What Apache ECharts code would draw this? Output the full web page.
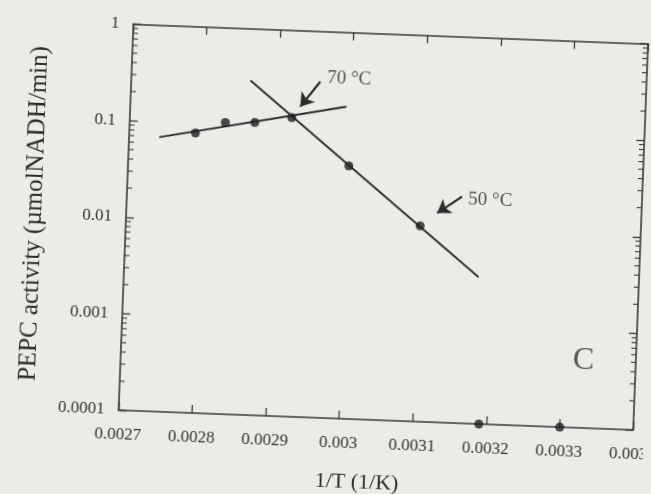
<!DOCTYPE html>
<html><head><meta charset="utf-8">
<script src="https://cdn.jsdelivr.net/npm/echarts@6/dist/echarts.min.js"></script>
<style>
html,body{margin:0;padding:0;background:#ecebe8;overflow:hidden;}
#chart{width:651px;height:494px;transform:rotate(2.2deg);transform-origin:50% 50%;}
</style></head><body><div id="chart"></div>
<script>
// Measured data (1/T in 1/K, PEPC activity in µmolNADH/min)
const invT = [0.00279, 0.00283, 0.00287, 0.00292, 0.00300, 0.00310, 0.00319, 0.00330];
const activity = [0.079, 0.104, 0.107, 0.124, 0.0415, 0.0106, 0.0001, 0.0001];
// Fitted regression lines (end points)
const fitLowX = [0.002741, 0.0029935];
const fitLowY = [0.0692, 0.1695];
const fitHighX = [0.002862, 0.003182];
const fitHighY = [0.289, 0.0033];
// Axis tick labels
const xTickLabels = ['0.0027','0.0028','0.0029','0.003','0.0031','0.0032','0.0033','0.0034'];
const yTickLabels = ['0.0001','0.001','0.01','0.1','1'];
const minorMultipliers = [2,3,4,5,6,7,8,9];
const decades = [0.0001,0.001,0.01,0.1];
// Annotations
const annotationText = ['70 °C','50 °C','C'];
const annotationX = [0.0029661, 0.003164, 0.0033288];
const annotationY = [0.330, 0.02084, 0.000496];
const arrowFromX = [0.0029569, 0.0031554];
const arrowFromY = [0.3001, 0.02214];
const arrowToX = [0.0029309, 0.0031223];
const arrowToY = [0.1627, 0.0146];

const X_MIN = 0.0027, X_MAX = 0.0034, Y_MIN = 0.0001, Y_MAX = 1;
const ink = '#2b2b2b';
const font = 'Liberation Serif';

const minorTicks = [];
decades.forEach(d => minorMultipliers.forEach(m => minorTicks.push([m * d])));

const chart = echarts.init(document.getElementById('chart'), null, {renderer:'canvas'});
const axisLine = {show:true, lineStyle:{color:'#3a3a3a', width:1.6}};
chart.setOption({
  backgroundColor:'#ecebe8',
  animation:false,
  grid:{left:125, top:31.5, right:11, bottom:76, containLabel:false, outerBoundsMode:'none'},
  xAxis:[{
    type:'value', min:X_MIN, max:X_MAX, interval:0.0001,
    name:'1/T (1/K)', nameLocation:'middle', nameGap:52,
    nameTextStyle:{fontFamily:font, fontSize:22, color:ink, padding:[0,34,0,0]},
    axisLine, splitLine:{show:false},
    axisTick:{inside:true, length:8, lineStyle:{color:'#3a3a3a', width:1.3}},
    axisLabel:{fontFamily:font, fontSize:17, color:'#333', margin:16,
      formatter:v => xTickLabels[Math.round((v - X_MIN) / 0.0001)] || ''}
  },{
    type:'value', min:X_MIN, max:X_MAX, interval:0.0001, position:'top',
    axisLine, splitLine:{show:false}, axisLabel:{show:false},
    axisTick:{inside:true, length:8, lineStyle:{color:'#3a3a3a', width:1.3}}
  }],
  yAxis:[{
    type:'log', logBase:10, min:Y_MIN, max:Y_MAX,
    name:'PEPC activity (µmolNADH/min)', nameLocation:'middle', nameGap:79,
    nameTextStyle:{fontFamily:font, fontSize:25, color:ink},
    axisLine, splitLine:{show:false},
    axisTick:{inside:true, length:8, lineStyle:{color:'#3a3a3a', width:1.3}},
    axisLabel:{fontFamily:font, fontSize:17, color:'#333', margin:14,
      formatter:v => yTickLabels[Math.round(Math.log10(v) + 4)] || ''}
  },{
    type:'log', logBase:10, min:Y_MIN, max:Y_MAX, position:'right',
    axisLine, splitLine:{show:false}, axisLabel:{show:false},
    axisTick:{inside:true, length:8, lineStyle:{color:'#3a3a3a', width:1.3}}
  }],
  series:[
    {
      name:'minor ticks', type:'custom', silent:true, z:1,
      data:minorTicks,
      renderItem:(params, api) => {
        const v = api.value(0);
        const l = api.coord([X_MIN, v]);
        const r = api.coord([X_MAX, v]);
        const st = {stroke:'#3a3a3a', lineWidth:1.1};
        return {type:'group', children:[
          {type:'line', shape:{x1:l[0], y1:l[1], x2:l[0] + 5, y2:l[1]}, style:st},
          {type:'line', shape:{x1:r[0], y1:r[1], x2:r[0] - 5, y2:r[1]}, style:st}
        ]};
      }
    },
    {
      name:'fit low T', type:'line', symbol:'none', z:2,
      data:fitLowX.map((x,i) => [x, fitLowY[i]]),
      lineStyle:{color:ink, width:1.9}
    },
    {
      name:'fit high', type:'line', symbol:'none', z:2,
      data:fitHighX.map((x,i) => [x, fitHighY[i]]),
      lineStyle:{color:ink, width:1.9}
    },
    {
      name:'PEPC activity', type:'scatter', symbol:'circle', symbolSize:9, z:3,
      data:invT.map((x,i) => [x, activity[i]]),
      itemStyle:{color:'#1e1e1e'}
    },
    {
      name:'arrows', type:'lines', coordinateSystem:'cartesian2d', z:3,
      symbol:['none','arrow'], symbolSize:[1,13],
      lineStyle:{color:ink, width:2.2, opacity:1},
      data:arrowFromX.map((x,i) => ({coords:[[x, arrowFromY[i]], [arrowToX[i], arrowToY[i]]]}))
    },
    {
      name:'labels', type:'scatter', symbolSize:0, z:4, silent:true,
      data:annotationX.map((x,i) => ({
        value:[x, annotationY[i]], name:annotationText[i],
        label:i < 2
          ? {show:true, position:'right', distance:0, formatter:'{b}', fontFamily:font, fontSize:19, color:ink}
          : {show:true, position:'inside', formatter:'{b}', fontFamily:font, fontSize:32, color:'#333'}
      }))
    }
  ]
});
</script></body></html>
